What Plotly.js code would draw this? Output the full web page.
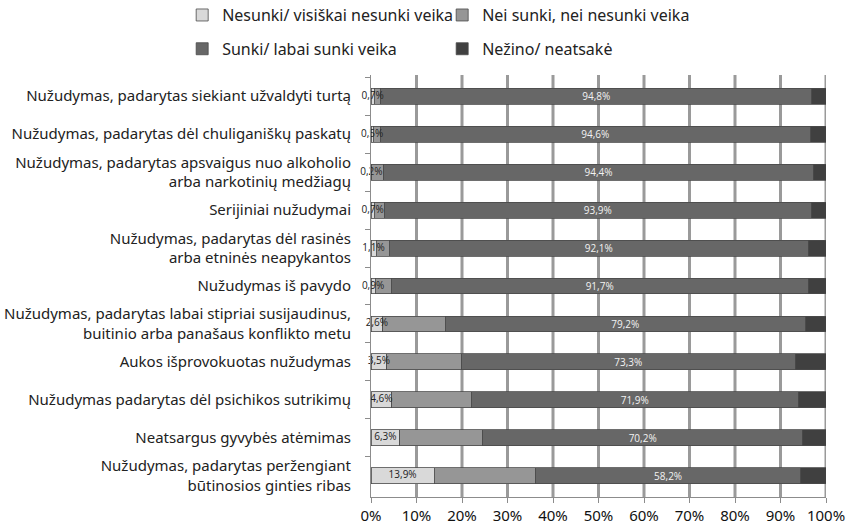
<!DOCTYPE html>
<html>
<head>
<meta charset="utf-8">
<script src="https://cdn.plot.ly/plotly-3.0.1.min.js"></script>
<style>html,body{margin:0;padding:0;background:#fff;}#chart{width:853px;height:529px;}</style>
</head>
<body>
<div id="chart"></div>
<script>
const categories = [
  "Nužudymas, padarytas siekiant užvaldyti turtą",
  "Nužudymas, padarytas dėl chuliganiškų paskatų",
  "Nužudymas, padarytas apsvaigus nuo alkoholio<br>arba narkotinių medžiagų",
  "Serijiniai nužudymai",
  "Nužudymas, padarytas dėl rasinės<br>arba etninės neapykantos",
  "Nužudymas iš pavydo",
  "Nužudymas, padarytas labai stipriai susijaudinus,<br>buitinio arba panašaus konflikto metu",
  "Aukos išprovokuotas nužudymas",
  "Nužudymas padarytas dėl psichikos sutrikimų",
  "Neatsargus gyvybės atėmimas",
  "Nužudymas, padarytas peržengiant<br>būtinosios ginties ribas"
];
const nesunki = [0.7, 0.5, 0.2, 0.7, 1.1, 0.9, 2.6, 3.5, 4.6, 6.3, 13.9];
const neiSunki = [1.4, 1.5, 2.6, 2.2, 2.9, 3.5, 13.7, 16.4, 17.4, 18.3, 22.3];
const sunki = [94.8, 94.6, 94.4, 93.9, 92.1, 91.7, 79.2, 73.3, 71.9, 70.2, 58.2];
const nezino = [3.1, 3.4, 2.8, 3.2, 3.9, 3.9, 4.5, 6.8, 6.1, 5.2, 5.6];
const seriesNames = ["Nesunki/ visiškai nesunki veika", "Nei sunki, nei nesunki veika", "Sunki/ labai sunki veika", "Nežino/ neatsakė"];
const xTicks = [0, 10, 20, 30, 40, 50, 60, 70, 80, 90, 100];

const lineStyle = {color: "#4a4a4a", width: 0.8};
const common = {type: "bar", orientation: "h", y: categories, hoverinfo: "skip"};
const traces = [
  Object.assign({}, common, {name: seriesNames[0], x: nesunki, legend: "legend",
    marker: {color: "#d9d9d9", line: lineStyle}, textposition: "none"}),
  Object.assign({}, common, {name: seriesNames[1], x: neiSunki, legend: "legend",
    marker: {color: "#969696", line: lineStyle}, textposition: "none"}),
  Object.assign({}, common, {name: seriesNames[2], x: sunki, legend: "legend2",
    marker: {color: "#676767", line: lineStyle},
    texttemplate: "%{x:.1f}%", textposition: "inside", insidetextanchor: "middle",
    textangle: 0, constraintext: "none",
    insidetextfont: {family: "Open Sans, sans-serif", size: 10, color: "#f2f2f2"}}),
  Object.assign({}, common, {name: seriesNames[3], x: nezino, legend: "legend2",
    marker: {color: "#404040", line: lineStyle}, textposition: "none"}),
  // labels of the first series, drawn above all bars at the centre of each light segment
  {type: "scatter", mode: "text", y: categories, x: nesunki.map(v => v / 2),
    text: nesunki.map(v => v.toFixed(1).replace(".", ",") + "%"),
    textposition: "middle center", showlegend: false, hoverinfo: "skip", cliponaxis: false,
    textfont: {family: "Open Sans, sans-serif", size: 10, color: "#222"}}
];

// vertical gridlines behind the bars, one per x tick (the 0 tick is the y axis line)
const gridShapes = xTicks.filter(t => t > 0).map(t => ({type: "line", xref: "x", yref: "paper",
  x0: t, x1: t, y0: 0, y1: 1, line: {color: "#9a9a9a", width: 3}, layer: "below"}));

const legendFont = {family: "Noto Sans, sans-serif", size: 16, color: "#222"};
const layout = {
  width: 853, height: 529,
  margin: {l: 371, r: 27, t: 75, b: 32, pad: 0, autoexpand: false},
  paper_bgcolor: "#fff", plot_bgcolor: "#fff",
  barmode: "stack", bargap: 0.58,
  separators: ", ",
  font: {family: "Noto Sans, sans-serif", size: 15, color: "#222"},
  shapes: gridShapes,
  xaxis: {type: "linear", range: [0, 100], tickmode: "array", tickvals: xTicks, ticktext: xTicks.map(t => t + "%"),
    showgrid: false, zeroline: false, showline: true, linecolor: "#8c8c8c", linewidth: 1,
    ticks: "outside", ticklen: 5, tickcolor: "#8c8c8c",
    tickfont: {family: "Noto Sans, sans-serif", size: 15, color: "#111"}, fixedrange: true},
  yaxis: {type: "category", categoryorder: "array", categoryarray: categories, autorange: "reversed",
    showline: true, linecolor: "#8c8c8c", linewidth: 1, showgrid: false,
    ticks: "outside", ticklen: 5, tickcolor: "#8c8c8c", tickson: "boundaries",
    ticklabelstandoff: 16,
    tickfont: {family: "Noto Sans, sans-serif", size: 15, color: "#222"}, fixedrange: true},
  showlegend: true,
  legend: {orientation: "h", traceorder: "normal", x: -0.415, xanchor: "left", y: 1.142, yanchor: "middle",
    entrywidth: 215, entrywidthmode: "pixels", font: legendFont, itemwidth: 30, bgcolor: "rgba(0,0,0,0)"},
  legend2: {orientation: "h", traceorder: "normal", x: -0.415, xanchor: "left", y: 1.062, yanchor: "middle",
    entrywidth: 215, entrywidthmode: "pixels", font: legendFont, itemwidth: 30, bgcolor: "rgba(0,0,0,0)"}
};
Plotly.newPlot("chart", traces, layout, {displayModeBar: false, staticPlot: true});
</script>
</body>
</html>
